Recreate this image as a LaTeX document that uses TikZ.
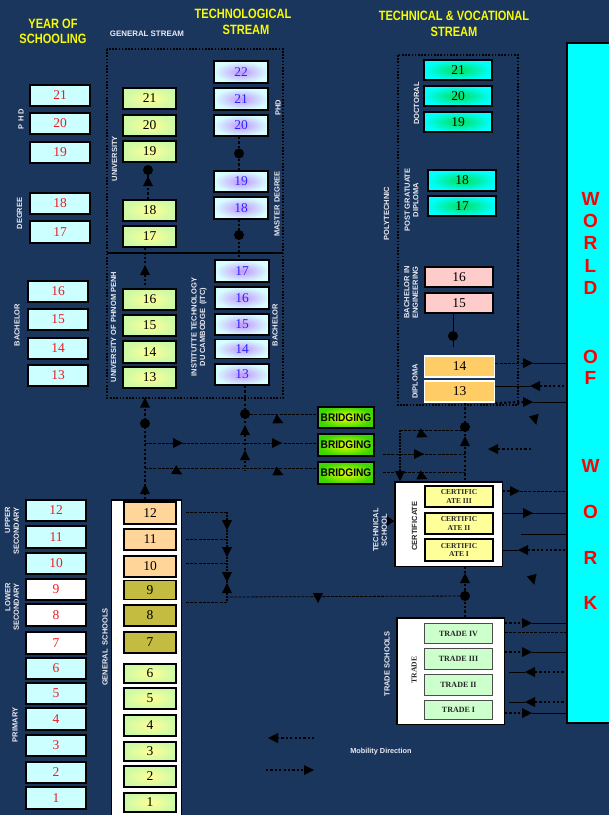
\documentclass[tikz,border=0pt]{standalone}
\usepackage{fontspec}
\setmainfont{Liberation Serif}
\setsansfont{Liberation Sans}
\usepackage{graphicx}
\usetikzlibrary{arrows.meta}
\pgfdeclarelayer{bglayer}
\pgfdeclarelayer{lines}
\pgfsetlayers{bglayer,lines,main}
\definecolor{bgnavy}{RGB}{26,54,92}
\definecolor{ycyan}{RGB}{204,255,255}
\definecolor{yred}{RGB}{235,30,36}
\definecolor{tyellow}{RGB}{250,250,0}
\definecolor{labw}{RGB}{235,235,242}
\definecolor{uin}{RGB}{255,255,150}
\definecolor{uout}{RGB}{205,250,165}
\definecolor{tin}{RGB}{195,150,255}
\definecolor{tout}{RGB}{215,255,255}
\definecolor{tblue}{RGB}{40,40,255}
\definecolor{din}{RGB}{0,225,90}
\definecolor{dout}{RGB}{0,255,255}
\definecolor{bin}{RGB}{235,255,0}
\definecolor{bout}{RGB}{60,215,0}
\definecolor{pinkb}{RGB}{255,204,204}
\definecolor{diporange}{RGB}{255,204,102}
\definecolor{certy}{RGB}{255,255,153}
\definecolor{tradeg}{RGB}{204,255,204}
\definecolor{peach}{RGB}{255,213,153}
\definecolor{oliveb}{RGB}{196,188,64}
\definecolor{wowcyan}{RGB}{0,255,255}
\definecolor{wowred}{RGB}{255,0,0}
\newcommand\numfont{\fontsize{13.5}{14}\selectfont}
\newcommand\narrowtxt[1]{\scalebox{0.82}[1]{#1}}
\newcommand\mytri[3]{\fill[black,shift={(#1,#2)},rotate=#3] (5,0) -- (-5,5) -- (-5,-5) -- cycle;}
\begin{document}
\begin{tikzpicture}[x=1pt,y=-1pt,
  box/.style={draw=black,line width=1.6pt,inner sep=0pt,font=\numfont,minimum height=21.5pt},
  ybox/.style={box,minimum width=59.5pt,fill=ycyan,text=yred},
  ywbox/.style={ybox,fill=white},
  ubox/.style={box,minimum width=52.5pt,inner color=uin,outer color=uout,text=black},
  tbox/.style={box,minimum width=53.5pt,inner color=tin,outer color=tout,text=tblue},
  dbox/.style={box,minimum width=68.5pt,minimum height=20.5pt,inner color=din,outer color=dout,text=black},
  pbox/.style={box,minimum width=68.5pt,minimum height=20.5pt,fill=pinkb,text=black},
  dipbox/.style={box,draw=white,minimum width=70pt,fill=diporange,text=black},
  cbox/.style={box,minimum width=68.5pt,fill=certy,text=black!85,align=center,font=\bfseries\fontsize{7.5}{8.6}\selectfont},
  trbox/.style={box,draw=black!70,line width=1.1pt,minimum width=68.5pt,minimum height=20.5pt,fill=tradeg,text=black!85,font=\bfseries\fontsize{8}{9}\selectfont},
  gbox/.style={box,minimum width=52.5pt},
  bbox/.style={box,minimum width=55.5pt,inner color=bin,outer color=bout,text=black,font=\sffamily\bfseries\fontsize{11}{12}\selectfont},
  lab/.style={font=\sffamily\bfseries\fontsize{7.5}{8.6}\selectfont,text=labw,inner sep=0pt,align=center},
  rlab/.style={lab,rotate=90},
  ttl/.style={font=\sffamily\bfseries\fontsize{13.5}{15}\selectfont,text=tyellow,inner sep=0pt},
  wowl/.style={font=\sffamily\bfseries\fontsize{19}{20}\selectfont,text=wowred,inner sep=0pt},
  dotn/.style={circle,fill=black,minimum size=10pt,inner sep=0pt},
  thd/.style={line width=2.2pt,dash pattern=on 2.2pt off 2.2pt},
  thn/.style={line width=0.8pt,dash pattern=on 3pt off 1.2pt},
  sol/.style={line width=1pt},
  mdot/.style={line width=1.5pt,dash pattern=on 1.5pt off 1.5pt},
  framedot/.style={line width=1.6pt,dash pattern=on 1.6pt off 1.6pt}
]
\useasboundingbox (0,0) rectangle (609,815);
\begin{pgfonlayer}{bglayer}
\fill[bgnavy] (0,0) rectangle (609,815);
\end{pgfonlayer}
\clip (0,0) rectangle (609,815);

% titles
\node[ttl] (tY1) at (53,23.7) {\narrowtxt{YEAR OF}};
\node[ttl] (tY2) at (53,38.7) {\narrowtxt{SCHOOLING}};
\node[lab,font=\sffamily\bfseries\fontsize{7.9}{9}\selectfont] (tGS) at (147,33.3) {GENERAL STREAM};
\node[ttl] (tT1) at (243,14.3) {\narrowtxt{TECHNOLOGICAL}};
\node[ttl] (tT2) at (246,30) {\narrowtxt{STREAM}};
\node[ttl] (tV1) at (454,16.3) {\narrowtxt{TECHNICAL \& VOCATIONAL}};
\node[ttl] (tV2) at (454,32.3) {\narrowtxt{STREAM}};

% world of work
\node[draw=black,line width=1.3pt,fill=wowcyan,minimum width=60pt,minimum height=680pt,inner sep=0pt] (wow) at (597,383) {};
\foreach \l/\yy/\nm in {W/199/a,O/221/b,R/243/c,L/266/d,D/288/e,O/357/f,F/378/g,W/466/h,O/512/i,R/558/j,K/603/k}
  \node[wowl] (w\nm) at (590.5,\yy) {\l};

% year of schooling column
\node[ybox] (y21) at (60,95.5) {21};
\node[ybox] (y20) at (60,123.5) {20};
\node[ybox] (y19) at (60,152.5) {19};
\node[ybox] (y18) at (60,203.5) {18};
\node[ybox] (y17) at (60,232) {17};
\node[ybox] (y16) at (58,291.5) {16};
\node[ybox] (y15) at (58,319.5) {15};
\node[ybox] (y14) at (58,348.5) {14};
\node[ybox] (y13) at (58,375.5) {13};
\node[ybox] (y12) at (56,510.5) {12};
\node[ybox] (y11) at (56,537) {11};
\node[ybox] (y10) at (56,563.5) {10};
\node[ywbox] (y9) at (56,589.5) {9};
\node[ywbox] (y8) at (56,615) {8};
\node[ywbox] (y7) at (56,643) {7};
\node[ybox] (y6) at (56,668.5) {6};
\node[ybox] (y5) at (56,693.5) {5};
\node[ybox] (y4) at (56,719) {4};
\node[ybox] (y3) at (56,745.5) {3};
\node[ybox] (y2) at (56,772.5) {2};
\node[ybox] (y1) at (56,798) {1};
\node[rlab] (lphd) at (21,119) {P H D};
\node[rlab] (ldeg) at (19.5,213.5) {DEGREE};
\node[rlab] (lbac) at (17,325) {BACHELOR};
\node[rlab,align=right] (lups) at (12,531) {UPPER\\SECONDARY};
\node[rlab,align=right] (llos) at (12,607) {LOWER\\SECONDARY};
\node[rlab] (lpri) at (15,725) {PRIMARY};

% general stream university
\node[ubox] (u21) at (149.5,98.5) {21};
\node[ubox] (u20) at (149.5,125.5) {20};
\node[ubox] (u19) at (149.5,151.5) {19};
\node[ubox] (u18) at (149.5,210.5) {18};
\node[ubox] (u17) at (149.5,236.5) {17};
\node[ubox] (u16) at (149.5,299.5) {16};
\node[ubox] (u15) at (149.5,325.5) {15};
\node[ubox] (u14) at (149.5,352) {14};
\node[ubox] (u13) at (149.5,377.5) {13};
\node[rlab] (luni) at (114.5,158.5) {UNIVERSITY};
\node[rlab] (lupp) at (113.5,327) {UNIVERSITY OF PHNOM PENH};

% technological stream
\node[tbox] (t22) at (241,72) {22};
\node[tbox] (t21) at (241,99) {21};
\node[tbox] (t20) at (241,125.5) {20};
\node[tbox] (t19) at (241,181.5) {19};
\node[tbox] (t18) at (241,208) {18};
\node[tbox] (t17) at (242,271) {17};
\node[tbox] (t16) at (242,298) {16};
\node[tbox] (t15) at (242,324.5) {15};
\node[tbox,minimum height=19pt] (t14) at (242,349) {14};
\node[tbox] (t13) at (242,374.5) {13};
\node[rlab] (litc) at (199,327) {INSTITUTTE TECHNOLOGY\\DU CAMBODGE\ \ (ITC)};
\node[rlab] (ltphd) at (278,108) {PHD};
\node[rlab] (ltmd) at (277,204) {MASTER DEGREE};
\node[rlab] (ltba) at (275,325) {BACHELOR};

% technical & vocational
\node[dbox] (d21) at (458,70) {21};
\node[dbox] (d20) at (458,96) {20};
\node[dbox] (d19) at (458,122) {19};
\node[dbox] (pg18) at (462,180.5) {18};
\node[dbox] (pg17) at (462,206) {17};
\node[pbox] (be16) at (459,277) {16};
\node[pbox] (be15) at (459,303) {15};
\node[dipbox] (dp14) at (459.5,366.5) {14};
\node[dipbox] (dp13) at (459.5,391.5) {13};
\node[rlab] (ldoc) at (416.5,103.5) {DOCTORAL};
\node[rlab] (lpoly) at (386.5,213.5) {POLYTECHNIC};
\node[rlab] (lpgd) at (411.5,200) {POST GRATUATE\\DIPLOMA};
\node[rlab] (lbie) at (411,292.5) {BACHELOR IN\\ENGINEERING};
\node[rlab] (ldip) at (415,381.5) {DIPLOMA};

% certificate
\node[draw=black,line width=1.5pt,fill=white,minimum width=107.5pt,minimum height=84.5pt,inner sep=0pt] (cert) at (448.5,524) {};
\node[cbox] (c3) at (459,496.5) {CERTIFIC\\ATE III};
\node[cbox] (c2) at (459,523.5) {CERTIFIC\\ATE II};
\node[cbox] (c1) at (459,550) {CERTIFIC\\ATE I};
\node[rlab,text=black!85] (lcert) at (414.5,526) {CERTIFICATE};
\node[rlab] (ltsch) at (380,530) {TECHNICAL\\SCHOOL};

% trade
\node[draw=black,line width=1.5pt,fill=white,minimum width=107.5pt,minimum height=106.5pt,inner sep=0pt] (trade) at (450.5,671) {};
\node[trbox] (tr4) at (458.5,633.5) {TRADE IV};
\node[trbox] (tr3) at (458.5,659) {TRADE III};
\node[trbox] (tr2) at (458.5,685) {TRADE II};
\node[trbox,minimum height=19pt] (tr1) at (458.5,710) {TRADE I};
\node[lab,rotate=90,font=\bfseries\fontsize{7.6}{9}\selectfont,text=black!85] (ltr) at (414,670) {TRADE};
\node[rlab] (ltrs) at (387,664) {TRADE SCHOOLS};

% general schools
\node[draw=black,line width=1.5pt,fill=white,minimum width=70pt,minimum height=330pt,inner sep=0pt] (gsbox) at (146.5,665) {};
\node[gbox,fill=peach] (g12) at (150,513) {12};
\node[gbox,fill=peach] (g11) at (150,539.5) {11};
\node[gbox,fill=peach] (g10) at (150,566.5) {10};
\node[gbox,fill=oliveb,minimum height=19pt] (g9) at (150,590) {9};
\node[gbox,fill=oliveb] (g8) at (150,615.5) {8};
\node[gbox,fill=oliveb] (g7) at (150,642.5) {7};
\node[ubox,minimum height=19.5pt] (g6) at (150,673.5) {6};
\node[ubox] (g5) at (150,698.5) {5};
\node[ubox] (g4) at (150,725.5) {4};
\node[ubox,minimum height=19.5pt] (g3) at (150,751.5) {3};
\node[ubox] (g2) at (150,776.5) {2};
\node[ubox,minimum height=19.5pt] (g1) at (150,802.5) {1};
\node[rlab] (lgs) at (105,647) {GENERAL\ \ SCHOOLS};

% bridging
\node[bbox] (b1) at (346,417.5) {\scalebox{0.92}[1]{BRIDGING}};
\node[bbox] (b2) at (346,445) {\scalebox{0.92}[1]{BRIDGING}};
\node[bbox] (b3) at (346,473) {\scalebox{0.92}[1]{BRIDGING}};

% dots
\node[dotn] (dU) at (148,170) {};
\node[dotn] (dT1) at (239,153.5) {};
\node[dotn] (dT2) at (239,235) {};
\node[dotn] (dG) at (145,423.5) {};
\node[dotn] (dT) at (245,414) {};
\node[dotn] (dB) at (453,336) {};
\node[dotn] (dP) at (465,427) {};
\node[dotn] (dC) at (465,596) {};
\node[dotn] (dbot) at (477,820) {};

\node[lab,font=\sffamily\bfseries\fontsize{7.3}{8}\selectfont] (mob) at (381,752) {Mobility Direction};

\coordinate (colG) at (145,0);
\coordinate (colT) at (245,0);
\coordinate (colP) at (465,0);

\begin{pgfonlayer}{lines}
% frames
\draw[framedot] (107,49) rectangle (283,398);
\draw[line width=1.5pt] (107,253) -- (283,253);
\draw[framedot] (398,55) rectangle (518,405);

% general stream verticals
\draw[thd] (u18.north -| dU) -- (dU);
\mytri{148}{181}{90}
\draw[thd] (u17.south -| colG) -- (u16.north -| colG);
\mytri{145}{270}{90}
\draw[thd,line width=1.8pt] (t20.south -| dT1) -- (t19.north -| dT1);
\draw[thd,line width=1.8pt] (t18.south -| dT2) -- (t17.north -| dT2);

% below university frame
\coordinate (fG) at (145,398);
\draw[thd] (gsbox.north -| colG) -- (fG);
\mytri{145}{402.5}{90}
\mytri{145}{489}{90}
\coordinate (eT) at (245,470);
\draw[thd,line width=1.8pt] (t13.south -| colT) -- (eT);
\mytri{245}{430}{90}
\mytri{245}{455}{90}

% to bridging
\coordinate (h2) at (145,443);
\coordinate (h3) at (145,468);
\draw[thn] (dT) -- (dT -| b1.west);
\draw[thn] (h2) -- (h2 -| b2.west);
\draw[thn] (h3) -- (h3 -| b3.west);
\mytri{279}{421}{-25}
\mytri{178}{443}{0}
\mytri{277}{443}{0}
\mytri{178}{472}{-30}
\mytri{279}{473}{-25}

% from bridging to technical school
\coordinate (v1) at (400,430);
\coordinate (r2) at (383,454);
\coordinate (r3) at (383,472);
\draw[thd,line width=1.8pt] (dp13.south -| colP) -- (cert.north -| colP);
\mytri{465}{441}{90}
\draw[thn] (v1) -- (v1 -| dP);
\draw[mdot] (v1) -- (v1 |- cert.north);
\mytri{400}{476}{270}
\mytri{423}{435}{-25}
\draw[thn] (r2) -- (r2 -| colP);
\draw[thn] (r3) -- (r3 -| colP);
\mytri{419}{454}{0}
\mytri{423}{477}{-25}
\coordinate (ts) at (386,521);
\draw[sol] (ts) -- (ts -| cert.west);
\fill[black] (394,521) -- (387,516) -- (387,526) -- cycle;

% polytechnic
\coordinate (eB) at (453,347);
\draw[sol] (be15.south -| dB) -- (eB);

% trade to certificate
\draw[thd,line width=1.8pt] (trade.north -| colP) -- (cert.south -| colP);
\mytri{465}{578}{90}
\coordinate (gx) at (227,597);
\draw[thn] (dC) -- (gx);
\mytri{318}{598}{270}

% general schools to technical
\coordinate (gl1) at (186,512);
\coordinate (gl2) at (186,539);
\coordinate (gl3) at (186,563);
\coordinate (gl4) at (186,602);
\draw[thn] (gl1) -- (gl1 -| gx);
\draw[thn] (gl2) -- (gl2 -| gx);
\draw[thn] (gl3) -- (gl3 -| gx);
\draw[thn] (gl4) -- (gl4 -| gx);
\draw[mdot] (gl1 -| gx) -- (gl4 -| gx);
\mytri{227}{525}{270}
\mytri{227}{552}{270}
\mytri{227}{577}{270}
\mytri{227}{588}{90}

% to and from world of work
\draw[thn] (dp14.east |- 0,363) -- (523,363);
\draw[sol] (533,363) -- (wow.west |- 0,363);
\mytri{528}{363}{0}
\draw[sol] (dp13.east |- 0,386) -- (530,386);
\mytri{535}{386}{180}
\draw[thd] (540,386) -- (wow.west |- 0,386);
\draw[thd] (dp13.south east) -- (523,402);
\mytri{528}{402}{0}
\draw[sol] (533,402) -- (wow.west |- 0,402);
\mytri{535}{420}{-75}
\mytri{493}{449}{180}
\draw[thd] (498,449) -- (533,449);

\draw[thd] (cert.east |- 0,491) -- (510,491);
\mytri{515}{491}{0}
\draw[thn] (520,491) -- (wow.west |- 0,491);
\draw[sol] (cert.east |- 0,513) -- (wow.west |- 0,513);
\mytri{528}{513}{0}
\draw[sol] (521,534) -- (wow.west |- 0,534);
\draw[sol] (cert.east |- 0,550) -- (518,550);
\mytri{523}{550}{180}
\draw[thd] (528,550) -- (wow.west |- 0,550);
\mytri{533}{580}{-75}

\draw[thd] (trade.east |- 0,623) -- (522,623);
\mytri{527}{623}{0}
\draw[sol] (532,623) -- (wow.west |- 0,623);
\draw[thn] (trade.east |- 0,632) -- (wow.west |- 0,632);
\draw[thd] (trade.east |- 0,652) -- (522,652);
\mytri{527}{652}{0}
\draw[sol] (532,652) -- (wow.west |- 0,652);
\draw[sol] (509,672) -- (525,672);
\mytri{530}{672}{180}
\draw[thd] (535,672) -- (wow.west |- 0,672);
\draw[sol] (509,702) -- (525,702);
\mytri{530}{702}{180}
\draw[thd] (535,702) -- (wow.west |- 0,702);
\draw[thd] (trade.east |- 0,713) -- (522,713);
\mytri{527}{713}{0}
\draw[sol] (532,713) -- (wow.west |- 0,713);

% legend
\draw[thd,line width=1.8pt] (277,738) -- (316,738);
\mytri{273}{738}{180}
\draw[thd,line width=1.8pt] (266,770) -- (305,770);
\mytri{309}{770}{0}
\end{pgfonlayer}
\end{tikzpicture}
\end{document}
